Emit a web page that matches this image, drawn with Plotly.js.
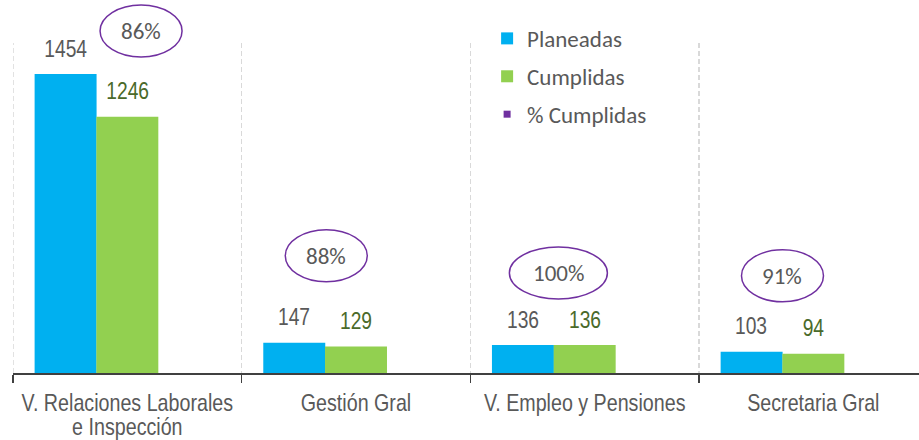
<!DOCTYPE html>
<html>
<head>
<meta charset="utf-8">
<script src="https://cdn.plot.ly/plotly-3.0.1.min.js"></script>
<style>
html,body{margin:0;padding:0;background:#fff;}
#chart{width:919px;height:440px;}
.narrowtext{transform-box:fill-box;transform-origin:center;transform:scaleX(0.8);}
</style>
</head>
<body>
<div id="chart"></div>
<script>
// ---- data ----
var categories = ["V. Relaciones Laborales<br>e Inspección", "Gestión Gral", "V. Empleo y Pensiones", "Secretaria Gral"];
var planeadas = [1454, 147, 136, 103];
var cumplidas = [1246, 129, 136, 94];
var pctLabels = ["86%", "88%", "100%", "91%"];
var seriesNames = ["Planeadas", "Cumplidas", "% Cumplidas"];

// ---- layout-only settings (positions / styles) ----
var yMax = 1605;
var barW = 0.271;
var pctDx = [0.06, -0.13, -0.115, -0.135];   // horizontal shift of % bubble (category units)
var pctDy = [43, 87, 72, 76];               // bubble centre above tallest bar (px)
var pctHalfW = [41, 41, 49, 41];
var pctHalfH = 26;

var narrow = "Liberation Sans, Arial, sans-serif";
var calib = "Carlito, Calibri, Lato, sans-serif";

var traces = [
  {type:'bar', name:seriesNames[0], x:categories, y:planeadas, width:barW, offset:-barW*1.5+0.001,
   marker:{color:'#00B0F0'}, legendgroup:'a', hoverinfo:'y'},
  {type:'bar', name:seriesNames[1], x:categories, y:cumplidas, width:barW, offset:-barW*0.5,
   marker:{color:'#92D050'}, legendgroup:'b', hoverinfo:'y'},
  {type:'scatter', mode:'markers', name:seriesNames[2], x:[null], y:[null],
   marker:{color:'#7030A0', symbol:'square', size:7}, legendgroup:'c'}
];

var annotations = [];
var shapes = [];
var narrowIdx = [];
categories.forEach(function(c, i){
  narrowIdx.push(annotations.length);
  annotations.push({xref:'x', yref:'y', x:i - barW, y:planeadas[i], text:String(planeadas[i]),
    showarrow:false, yanchor:'middle', yshift:26, font:{family:narrow, size:24, color:'#595959'}});
  narrowIdx.push(annotations.length);
  annotations.push({xref:'x', yref:'y', x:i, y:cumplidas[i], text:String(cumplidas[i]),
    showarrow:false, yanchor:'middle', yshift:26, font:{family:narrow, size:24, color:'#4A6A2A'}});
  var top = Math.max(planeadas[i], cumplidas[i]) / yMax;
  annotations.push({xref:'x', yref:'paper', x:i + pctDx[i], y:top, text:pctLabels[i],
    showarrow:false, yanchor:'middle', yshift:pctDy[i], font:{family:calib, size:23, color:'#595959'}});
  shapes.push({type:'circle', xref:'x', yref:'paper', xsizemode:'pixel', ysizemode:'pixel',
    xanchor:i + pctDx[i], yanchor:top, x0:-pctHalfW[i], x1:pctHalfW[i],
    y0:pctDy[i]-pctHalfH, y1:pctDy[i]+pctHalfH, line:{color:'#7030A0', width:1.5}, layer:'above'});
});
// left-edge dashed divider (Plotly omits the grid line lying on the plot edge)
shapes.push({type:'line', xref:'x', yref:'paper', x0:-0.5, x1:-0.5, y0:0, y1:1,
  line:{color:'#D9D9D9', width:1.5, dash:'5px,3px'}, layer:'below'});

var layout = {
  width:919, height:440,
  margin:{l:13, r:0, t:43, b:67, pad:0},
  paper_bgcolor:'#fff', plot_bgcolor:'#fff',
  showlegend:true,
  legend:{x:0.5233, xanchor:'left', y:1.079, yanchor:'top', traceorder:'grouped', tracegroupgap:5,
    font:{family:calib, size:23, color:'#595959'}, bgcolor:'rgba(0,0,0,0)'},
  xaxis:{type:'category', range:[-0.5, 3.462], tickangle:0, ticklabelstandoff:7,
    tickson:'boundaries', ticks:'outside', ticklen:8, tickwidth:1.5, tickcolor:'#404040',
    showline:true, linecolor:'#404040', linewidth:2,
    showgrid:true, gridcolor:'#D9D9D9', gridwidth:1.5, griddash:'5px,3px',
    tickfont:{family:narrow, size:24, color:'#595959'}, zeroline:false, fixedrange:true},
  yaxis:{range:[0, yMax], visible:false, showgrid:false, zeroline:false, fixedrange:true},
  annotations:annotations, shapes:shapes
};

Plotly.newPlot('chart', traces, layout, {displayModeBar:false, staticPlot:true}).then(function(gd){
  // narrow (condensed) rendering for the numeric labels and category labels
  gd.querySelectorAll('g.annotation').forEach(function(g){
    var idx = +g.getAttribute('data-index');
    if (narrowIdx.indexOf(idx) >= 0) {
      g.querySelectorAll('text').forEach(function(t){ t.classList.add('narrowtext'); });
    }
  });
  gd.querySelectorAll('g.xtick text').forEach(function(t){
    var x = parseFloat(t.getAttribute('x')) || 0;
    var tr = t.getAttribute('transform') || '';
    t.setAttribute('transform', tr + ' translate(' + x + ',0) scale(0.82,1) translate(' + (-x) + ',0)');
    var lines = t.querySelectorAll('tspan.line');
    lines.forEach(function(ln, k){ ln.setAttribute('dy', (k * 1.02) + 'em'); });
  });
});
</script>
</body>
</html>
